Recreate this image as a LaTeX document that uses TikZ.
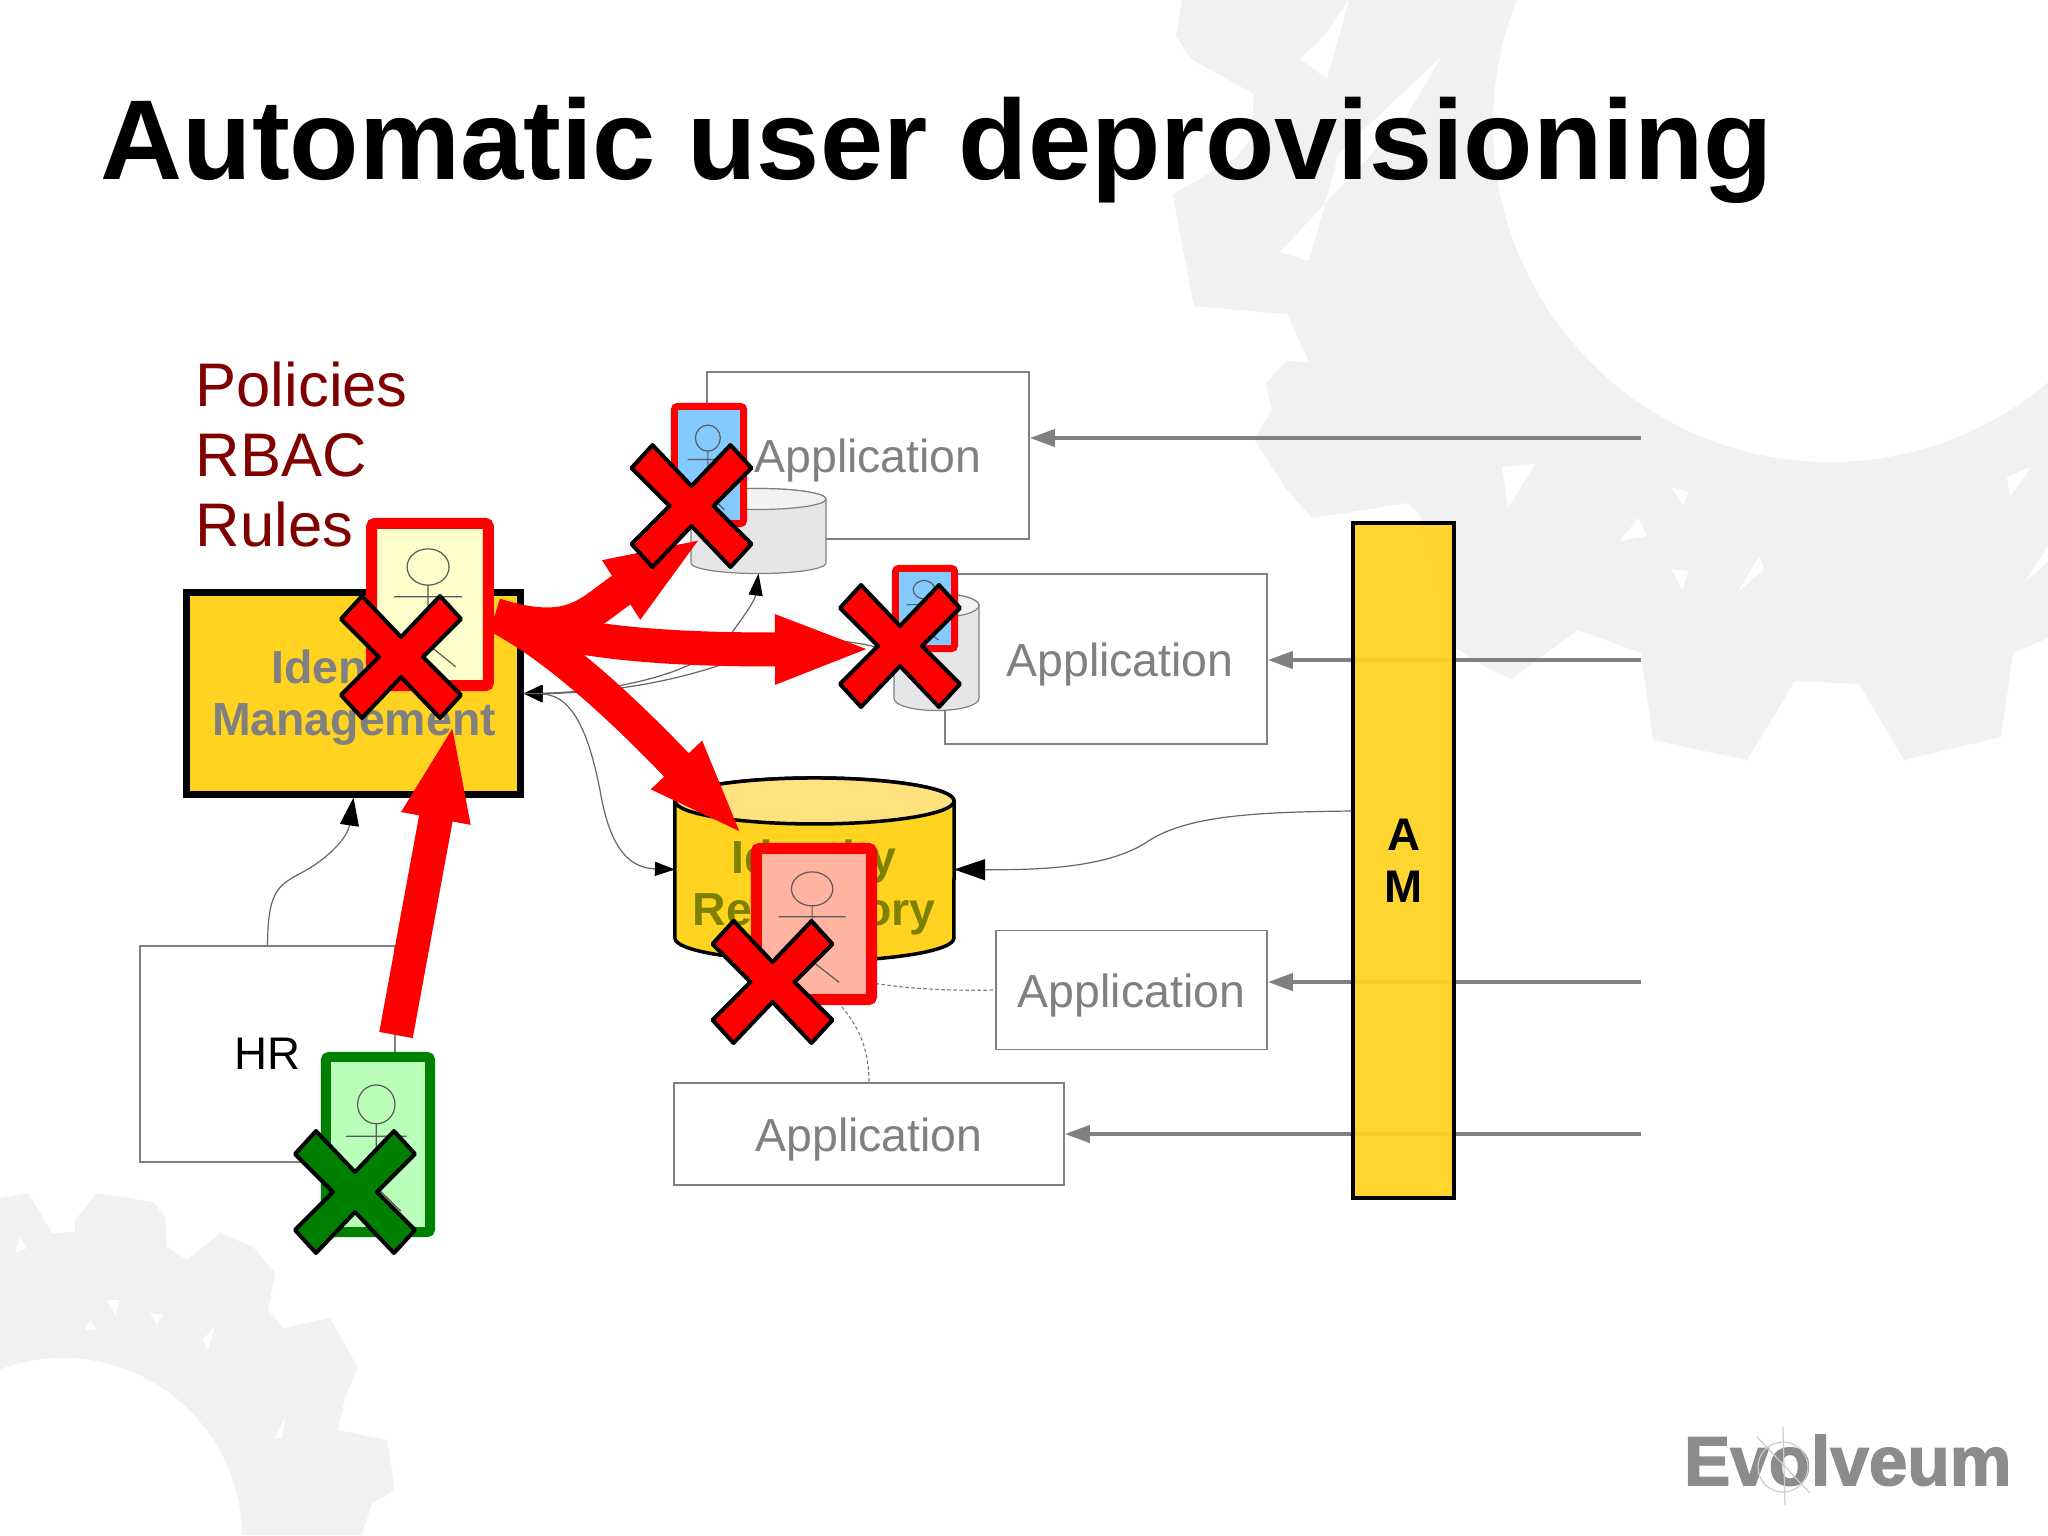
\documentclass[tikz,border=0pt]{standalone}
\usepackage{fontspec}
\setmainfont{Liberation Sans}
\newfontfamily\logofont[FakeBold=2.2]{Liberation Sans}
\usetikzlibrary{shapes.geometric, arrows.meta, positioning, calc}
\definecolor{gearcolor}{RGB}{241, 240, 243}
\definecolor{boxyellow}{RGB}{255, 211, 32}
\definecolor{capyellow}{RGB}{255, 226, 125}
\definecolor{policyred}{RGB}{128, 0, 0}
\definecolor{repotext}{RGB}{128, 128, 0}
\definecolor{userblue}{RGB}{131, 202, 255}
\definecolor{usersalmon}{RGB}{255, 179, 160}
\definecolor{usergreen}{RGB}{185, 255, 185}
\definecolor{useryellow}{RGB}{255, 255, 204}
\definecolor{markgreen}{RGB}{0, 128, 0}
\definecolor{cylgray}{RGB}{230, 230, 232}
% node name, half width, cap radius, line style, body fill, cap fill
\newcommand{\drumbody}[6]{
    \draw[#4, fill=#5] ($(#1.north west)+(0,#3)$) -- ($(#1.south west)-(0,#3)$)
        arc [start angle=180, end angle=0, x radius=#2, y radius=#3] -- ($(#1.north east)+(0,#3)$)
        arc [start angle=0, end angle=-180, x radius=#2, y radius=#3] -- cycle;
    \draw[#4, fill=#6] ($(#1.north)+(0,#3)$) ellipse [x radius=#2, y radius=#3];
}

\begin{document}
\begin{tikzpicture}[
    x=0.01cm, y=-0.01cm,
    appbox/.style={rectangle, draw=gray, fill=white, line width=.015cm, inner sep=0, font=\fontsize{13.2}{15}\selectfont, text=gray, text height=.34cm, text depth=0pt},
    thickbox/.style={rectangle, draw=black, fill=boxyellow, inner sep=0, align=center, font=\fontsize{13}{14.8}\selectfont\bfseries},
    boldlabel/.style={inner sep=0, align=center, font=\fontsize{13.2}{14.8}\selectfont\bfseries},
    userbox/.style={rectangle, rounded corners=.03cm, inner sep=0},
    drumbox/.style={rectangle, inner sep=0, outer sep=0},
    feedarrow/.style={draw=gray, line width=.04cm, -{Triangle[length=.25cm,width=.17cm]}},
    thinline/.style={draw=black!60, line width=.012cm},
    dashline/.style={draw=gray, line width=.012cm, dash pattern=on .035cm off .025cm},
    bigarrow/.style={draw=red, line width=.34cm, -{Triangle[length=.98cm,width=.62cm]}},
    tipblack/.style={-{Triangle[length=#1,black]}},
    pics/stickman/.style={code={
        \draw[black!65, line width=.012cm] (-.015,-.217) ellipse [x radius=.164, y radius=.105];
        \draw[black!65, line width=.012cm] (-.015,-.112) -- (-.015,.23) -- (.2,.36) (-.015,.23) -- (-.23,.36) (-.28,-.045) -- (.25,-.045);
    }},
    pics/xmark/.style={code={
        \draw[black, fill=#1, line width=.04cm, line join=round] (-39,-61) -- (0,-20) -- (39,-61) -- (60,-38) -- (22,0) -- (60,38) -- (39,61) -- (0,20) -- (-39,61) -- (-60,38) -- (-22,0) -- (-60,-38) -- cycle;
    }}
]
\useasboundingbox (0,0) rectangle (2048,1535);
\fill[white] (0,0) rectangle (2048,1535);

% --- Background gears ---
\fill[gearcolor] (1182,0) -- (1176,36) -- (1191,59) -- (1254,94) -- (1251,138) -- (1236,158) -- (1173,194) -- (1182,245) -- (1194,306) -- (1287,314) -- (1309,362) -- (1287,361) -- (1266,383) -- (1272,411) -- (1254,439) -- (1287,490) -- (1312,518) -- (1408,503) -- (1420,515) -- (1456,648) -- (1487,668) -- (1511,679) -- (1578,630) -- (1641,653) -- (1653,740) -- (1747,760) -- (1795,681) -- (1859,684) -- (1904,760) -- (2001,737) -- (2013,653) -- (2048,638) -- (2048,0) -- cycle;
\fill[white] (1830,125) circle [radius=337];
\fill[white] (1349,0) -- (1327,79) -- (1300,59) -- (1324,36) -- cycle
    (1442,56) -- (1405,118) -- (1280,252) -- (1309,261) -- (1339,153) -- cycle
    (1502,467) -- (1535,464) -- (1508,508) -- cycle
    (1671,487) -- (1689,492) -- (1683,505) -- cycle
    (1620,541) -- (1638,518) -- (1647,536) -- cycle
    (1671,569) -- (1689,571) -- (1682,589) -- cycle
    (1738,592) -- (1759,556) -- (1764,569) -- cycle
    (2007,477) -- (2031,467) -- (2010,497) -- cycle
    (2025,582) -- (2048,546) -- (2048,561) -- cycle;
\fill[gearcolor] (0,1198) -- (28,1193) -- (52,1233) -- (75,1232) -- (75,1220) -- (97,1193) -- (153,1202) -- (165,1217) -- (167,1247) -- (187,1260) -- (220,1233) -- (253,1247) -- (275,1273) -- (268,1310) -- (283,1328) -- (330,1318) -- (358,1368) -- (345,1397) -- (338,1430) -- (387,1440) -- (395,1490) -- (372,1503) -- (362,1535) -- (0,1535) -- cycle;
\fill[white] (63,1537) circle [radius=179];
\fill[white] (15,1253) -- (20,1237) -- (27,1248) -- cycle
    (107,1300) -- (120,1300) -- (115,1315) -- cycle
    (203,1340) -- (215,1325) -- (208,1350) -- cycle
    (150,1313) -- (163,1315) -- (157,1325) -- cycle
    (85,1330) -- (90,1320) -- (97,1330) -- cycle
    (275,1438) -- (285,1417) -- (282,1438) -- cycle;

% --- Title and logo ---
\node[anchor=base west, inner sep=0, font=\fontsize{32.3}{36}\selectfont\bfseries] (title) at (100,179) {Automatic user deprovisioning};
\node[anchor=north west, inner sep=0, align=left, text=policyred, font=\fontsize{17.5}{19.9}\selectfont] (rules) at (195,361) {Policies\\RBAC\\Rules};
\node[anchor=base east, inner sep=0, text=black!45, font=\fontsize{19.7}{22}\selectfont\logofont\bfseries] (logo) at (2012,1485) {Evolveum};
\draw[black!20, line width=.012cm] (1783,1467) circle [radius=25] (1783,1427) -- (1785,1505) (1757,1437) -- (1810,1493);

% --- Applications and access manager ---
\node[appbox, minimum width=3.22cm, minimum height=1.67cm] (app1) at (868,455.5) {Application};
\node[appbox, minimum width=3.22cm, minimum height=1.70cm] (app2) at (1106,659) {\hspace{.28cm}Application};
\node[appbox, minimum width=2.71cm, minimum height=1.19cm] (app3) at (1131.5,990) {Application};
\node[appbox, minimum width=3.90cm, minimum height=1.02cm] (app4) at (869,1134) {Application};

\coordinate (feed1) at (1641,438);
\coordinate (feed2) at (1641,660);
\coordinate (feed3) at (1641,982);
\coordinate (feed4) at (1641,1134);
\draw[feedarrow] (feed1) -- (feed1 -| app1.east);
\draw[feedarrow] (feed2) -- (feed2 -| app2.east);
\draw[feedarrow] (feed3) -- (feed3 -| app3.east);
\draw[feedarrow] (feed4) -- (feed4 -| app4.east);

\node[thickbox, line width=.04cm, fill opacity=.93, text opacity=1, minimum width=1.00cm, minimum height=6.74cm] (am) at (1403.5,860.5) {A\\M};

% --- Directories ---
\node[drumbox, minimum width=1.35cm, minimum height=.85cm] (cyl1) at (758.5,531) {};
\drumbody{cyl1}{67.5}{10.5}{draw=gray, line width=.012cm}{cylgray}{cylgray!50}
\node[drumbox, minimum width=.85cm, minimum height=1.17cm] (cyl2) at (936.5,652) {};
\drumbody{cyl2}{42.5}{12}{draw=gray, line width=.012cm}{cylgray}{cylgray!50}
\node[drumbox, minimum width=2.79cm, minimum height=1.83cm] (repo) at (814.5,869.5) {};
\drumbody{repo}{139.5}{23}{draw=black, line width=.035cm}{boxyellow}{capyellow}
\node[boldlabel, text=repotext] (repolabel) at (814,887) {Identity\\Repository};

\node[thickbox, line width=.07cm, minimum width=3.33cm, minimum height=2.01cm] (idm) at (353.5,693.5) {};
\node[boldlabel, text=gray] (idmlabel) at (354,698) {Identity\\Management};
\node[rectangle, draw=gray, fill=white, line width=.015cm, inner sep=0, minimum width=2.55cm, minimum height=2.16cm, font=\fontsize{13}{15}\selectfont] (hr) at (267.5,1054) {HR};

% --- Thin connectors ---
\draw[thinline, tipblack={.28cm,width=.19cm}] (hr.north) .. controls (268,885) and (280,885) .. (310,868) .. controls (335,852) and (348,835) .. (idm.south);
\draw[thinline, {Triangle[length=.19cm,width=.17cm,black]}-{Triangle[length=.2cm,width=.14cm,black]}] (idm.east) .. controls (575,695) and (590,740) .. (600,790) .. controls (610,850) and (630,868) .. (repo.west);
\draw[thinline, {Triangle[length=.19cm,width=.17cm,black]}-{Triangle[length=.22cm,width=.14cm,black]}] (idm.east) .. controls (610,692) and (700,675) .. (730,635) .. controls (745,615) and (755,600) .. (cyl1.south);
\draw[thinline, -{Triangle[length=.19cm,width=.14cm,black]}] (idm.east) .. controls (610,695) and (690,680) .. (760,650) .. controls (800,635) and (850,640) .. (cyl2.west);
\draw[thinline, tipblack={.31cm,width=.21cm}] (am.west |- 0,811) .. controls (1260,812) and (1190,815) .. (1150,840) .. controls (1110,868) and (1040,870) .. (repo.east);
\draw[dashline] (repo.south) .. controls (830,980) and (900,992) .. (app3.west);
\draw[dashline] (repo.south) .. controls (820,1000) and (869,1010) .. (app4.north);

% --- Red arrows ---
\coordinate (idmout) at (495,615);
\coordinate (hrout) at (396,1035);
\coordinate (idmin) at (453.6,722);
\draw[bigarrow] (hrout) -- (idmin);
\draw[bigarrow] (idmout) .. controls (575,640) and (590,610) .. (703.6,537);
\draw[bigarrow] (idmout) .. controls (560,640) and (650,650) .. (873,649);
\draw[bigarrow] (idmout) .. controls (545,640) and (610,695) .. (744,836);

% --- Users ---
\node[userbox, draw=red, fill=useryellow, line width=.11cm, minimum width=1.165cm, minimum height=1.62cm] (user1) at (430,604.5) {};
\pic[xscale=128, yscale=173] at (user1.center) {stickman};
\node[userbox, draw=red, fill=userblue, line width=.07cm, minimum width=.69cm, minimum height=1.17cm] (user2) at (709,465) {};
\pic[xscale=76, yscale=124] at (user2.center) {stickman};
\node[userbox, draw=red, fill=userblue, line width=.07cm, minimum width=.59cm, minimum height=.80cm] (user3) at (925,608.5) {};
\pic[xscale=66, yscale=87] at (user3.center) {stickman};
\node[userbox, draw=red, fill=usersalmon, line width=.11cm, minimum width=1.15cm, minimum height=1.51cm] (user4) at (814,924) {};
\pic[xscale=126, yscale=162] at (user4.center) {stickman};
\node[userbox, draw=markgreen, fill=usergreen, line width=.10cm, minimum width=1.04cm, minimum height=1.75cm] (user5) at (378,1144.5) {};
\pic[xscale=114, yscale=185] at (user5.center) {stickman};

% --- Crosses ---
\pic at (401,657) {xmark=red};
\pic at (691.5,506) {xmark=red};
\pic at (900,646) {xmark=red};
\pic at (772.5,982) {xmark=red};
\pic at (355,1192) {xmark=markgreen};
\end{tikzpicture}
\end{document}
